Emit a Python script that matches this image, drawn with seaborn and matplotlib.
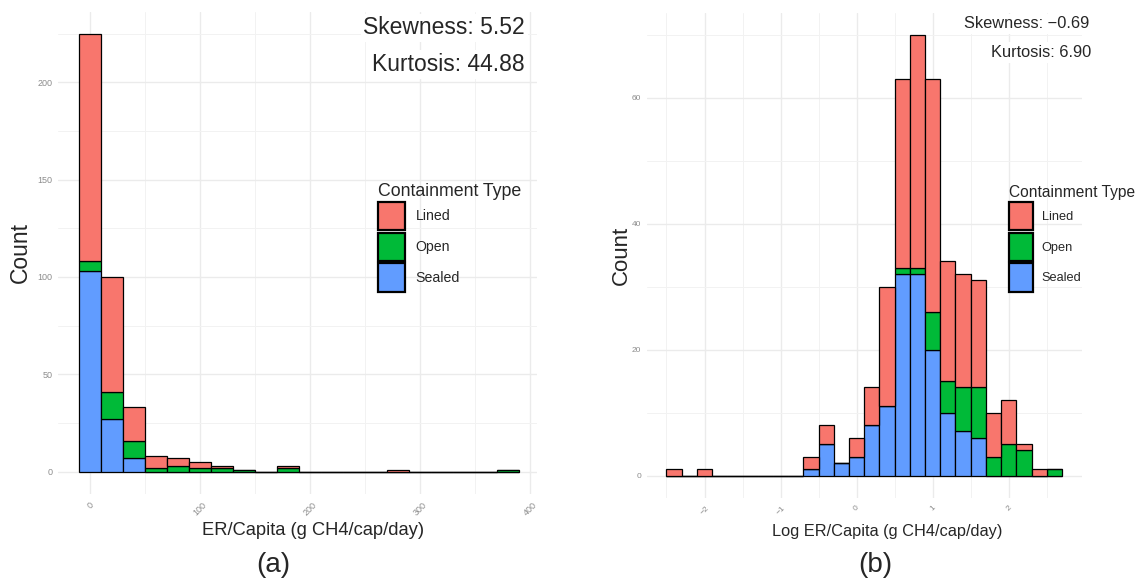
import numpy as np
import pandas as pd
import matplotlib.pyplot as plt
from matplotlib.ticker import MultipleLocator
import seaborn as sns

# (a) ER/Capita histogram, bin centres (width 20) and stacked counts
er_bins = [0, 20, 40, 60, 80, 100, 120, 140, 160, 180,
           200, 220, 240, 260, 280, 300, 320, 340, 360, 380]
er_lined = [117, 59, 17, 6, 4, 3, 1, 0, 0, 1, 0, 0, 0, 0, 1, 0, 0, 0, 0, 0]
er_open = [5, 14, 9, 2, 3, 2, 2, 1, 0, 2, 0, 0, 0, 0, 0, 0, 0, 0, 0, 1]
er_sealed = [103, 27, 7, 0, 0, 0, 0, 0, 0, 0, 0, 0, 0, 0, 0, 0, 0, 0, 0, 0]

# (b) log ER/Capita histogram, bin centres (width 0.2) and stacked counts
log_bins = [-2.4, -2.2, -2.0, -1.8, -1.6, -1.4, -1.2, -1.0, -0.8, -0.6,
            -0.4, -0.2, 0.0, 0.2, 0.4, 0.6, 0.8, 1.0, 1.2, 1.4,
            1.6, 1.8, 2.0, 2.2, 2.4, 2.6]
log_lined = [1, 0, 1, 0, 0, 0, 0, 0, 0, 2, 3, 0, 3, 6, 19, 30, 37, 37, 19, 18,
             17, 7, 7, 1, 1, 0]
log_open = [0, 0, 0, 0, 0, 0, 0, 0, 0, 0, 0, 0, 0, 0, 0, 1, 1, 6, 5, 7,
            8, 3, 5, 4, 0, 1]
log_sealed = [0, 0, 0, 0, 0, 0, 0, 0, 0, 1, 5, 2, 3, 8, 11, 32, 32, 20, 10, 7,
              6, 0, 0, 0, 0, 0]

types = ["Lined", "Open", "Sealed"]
type_colors = ["#F8766D", "#00BA38", "#619CFF"]
stats_a = ["Skewness: 5.52", "Kurtosis: 44.88"]
stats_b = ["Skewness: \u22120.69", "Kurtosis: 6.90"]


def to_long(bins, lined, open_, sealed):
    frames = []
    for name, counts in zip(types, [lined, open_, sealed]):
        frames.append(pd.DataFrame({"value": bins, "count": counts, "type": name}))
    return pd.concat(frames, ignore_index=True)


def draw_hist(ax, df, edges):
    sns.histplot(data=df, x="value", weights="count", hue="type",
                 hue_order=types, palette=dict(zip(types, type_colors)),
                 multiple="stack", bins=list(edges), alpha=1,
                 edgecolor="black", linewidth=0.9, ax=ax)


def style_axes(ax, xmajor, xminor, ymajor, yminor, tick_size):
    ax.xaxis.set_major_locator(MultipleLocator(xmajor))
    ax.xaxis.set_minor_locator(MultipleLocator(xminor))
    ax.yaxis.set_major_locator(MultipleLocator(ymajor))
    ax.yaxis.set_minor_locator(MultipleLocator(yminor))
    ax.grid(which="major", color="#EBEBEB", linewidth=1.0)
    ax.grid(which="minor", color="#F2F2F2", linewidth=0.7)
    ax.set_axisbelow(True)
    for s in ax.spines.values():
        s.set_visible(False)
    ax.tick_params(which="both", length=0, labelsize=tick_size, labelcolor="#8C8C8C")
    ax.tick_params(axis="x", pad=5)
    ax.tick_params(axis="y", pad=4)
    for lab in ax.get_xticklabels():
        lab.set_rotation(45)
        lab.set_ha("center")


def place_legend(ax, anchor, title_size, label_size, hlen, hheight, spacing, textpad):
    sns.move_legend(ax, "upper left", bbox_to_anchor=anchor,
                    frameon=False, title="Containment Type",
                    title_fontsize=title_size, fontsize=label_size,
                    handlelength=hlen, handleheight=hheight,
                    labelspacing=spacing, handletextpad=textpad, borderpad=0,
                    borderaxespad=0, alignment="left")
    for h in ax.get_legend().legend_handles:
        h.set_linewidth(1.6)


sns.set_style("whitegrid")
plt.rcParams["font.family"] = ["Liberation Sans", "DejaVu Sans"]

fig = plt.figure(figsize=(11.37, 5.79), dpi=100)
ax_a = fig.add_axes([0.0513, 0.1475, 0.4207, 0.8323])
ax_b = fig.add_axes([0.5688, 0.1406, 0.3826, 0.8378])

# ---- panel (a)
draw_hist(ax_a, to_long(er_bins, er_lined, er_open, er_sealed),
          np.linspace(-10, 390, 21))
ax_a.set_xlim(-29, 406)
ax_a.set_ylim(-11.25, 236.25)
style_axes(ax_a, 100, 50, 50, 25, 6.5)
ax_a.set_xlabel("ER/Capita (g CH4/cap/day)", fontsize=13.2, va="center")
ax_a.xaxis.set_label_coords(0.533, -0.0776)
ax_a.set_ylabel("Count", fontsize=16.5, va="center")
ax_a.yaxis.set_label_coords(-0.079, 0.5)
place_legend(ax_a, (0.669, 0.645), 12.8, 10.2, 1.9, 2.7, 0.16, 0.73)

# ---- panel (b)
draw_hist(ax_b, to_long(log_bins, log_lined, log_open, log_sealed),
          np.linspace(-2.5, 2.7, 27))
ax_b.set_xlim(-2.76, 2.96)
ax_b.set_ylim(-3.5, 73.5)
style_axes(ax_b, 1, 0.5, 20, 10, 6)
ax_b.set_xlabel("Log ER/Capita (g CH4/cap/day)", fontsize=11.8, va="center")
ax_b.xaxis.set_label_coords(0.5517, -0.0689)
ax_b.set_ylabel("Count", fontsize=16, va="center")
ax_b.yaxis.set_label_coords(-0.059, 0.5)
place_legend(ax_b, (0.8336, 0.645), 11.2, 9.2, 1.875, 3.0, 0.2, 0.66)

# skewness / kurtosis annotations
box = dict(facecolor="white", edgecolor="none", pad=2)
fig.text(525 / 1137, 1 - 28 / 579, stats_a[0], ha="right", va="center",
         fontsize=16.5, bbox=box)
fig.text(525 / 1137, 1 - 64.5 / 579, stats_a[1], ha="right", va="center",
         fontsize=16.5, bbox=box)
fig.text(1089 / 1137, 1 - 24 / 579, stats_b[0], ha="right", va="center",
         fontsize=11.8, bbox=box)
fig.text(1091 / 1137, 1 - 52.5 / 579, stats_b[1], ha="right", va="center",
         fontsize=11.8, bbox=box)

# panel tags
fig.text(273 / 1137, 1 - 565 / 579, "(a)", ha="center", va="center", fontsize=20)
fig.text(875 / 1137, 1 - 565 / 579, "(b)", ha="center", va="center", fontsize=20)

fig.savefig("out.png", dpi=100)
